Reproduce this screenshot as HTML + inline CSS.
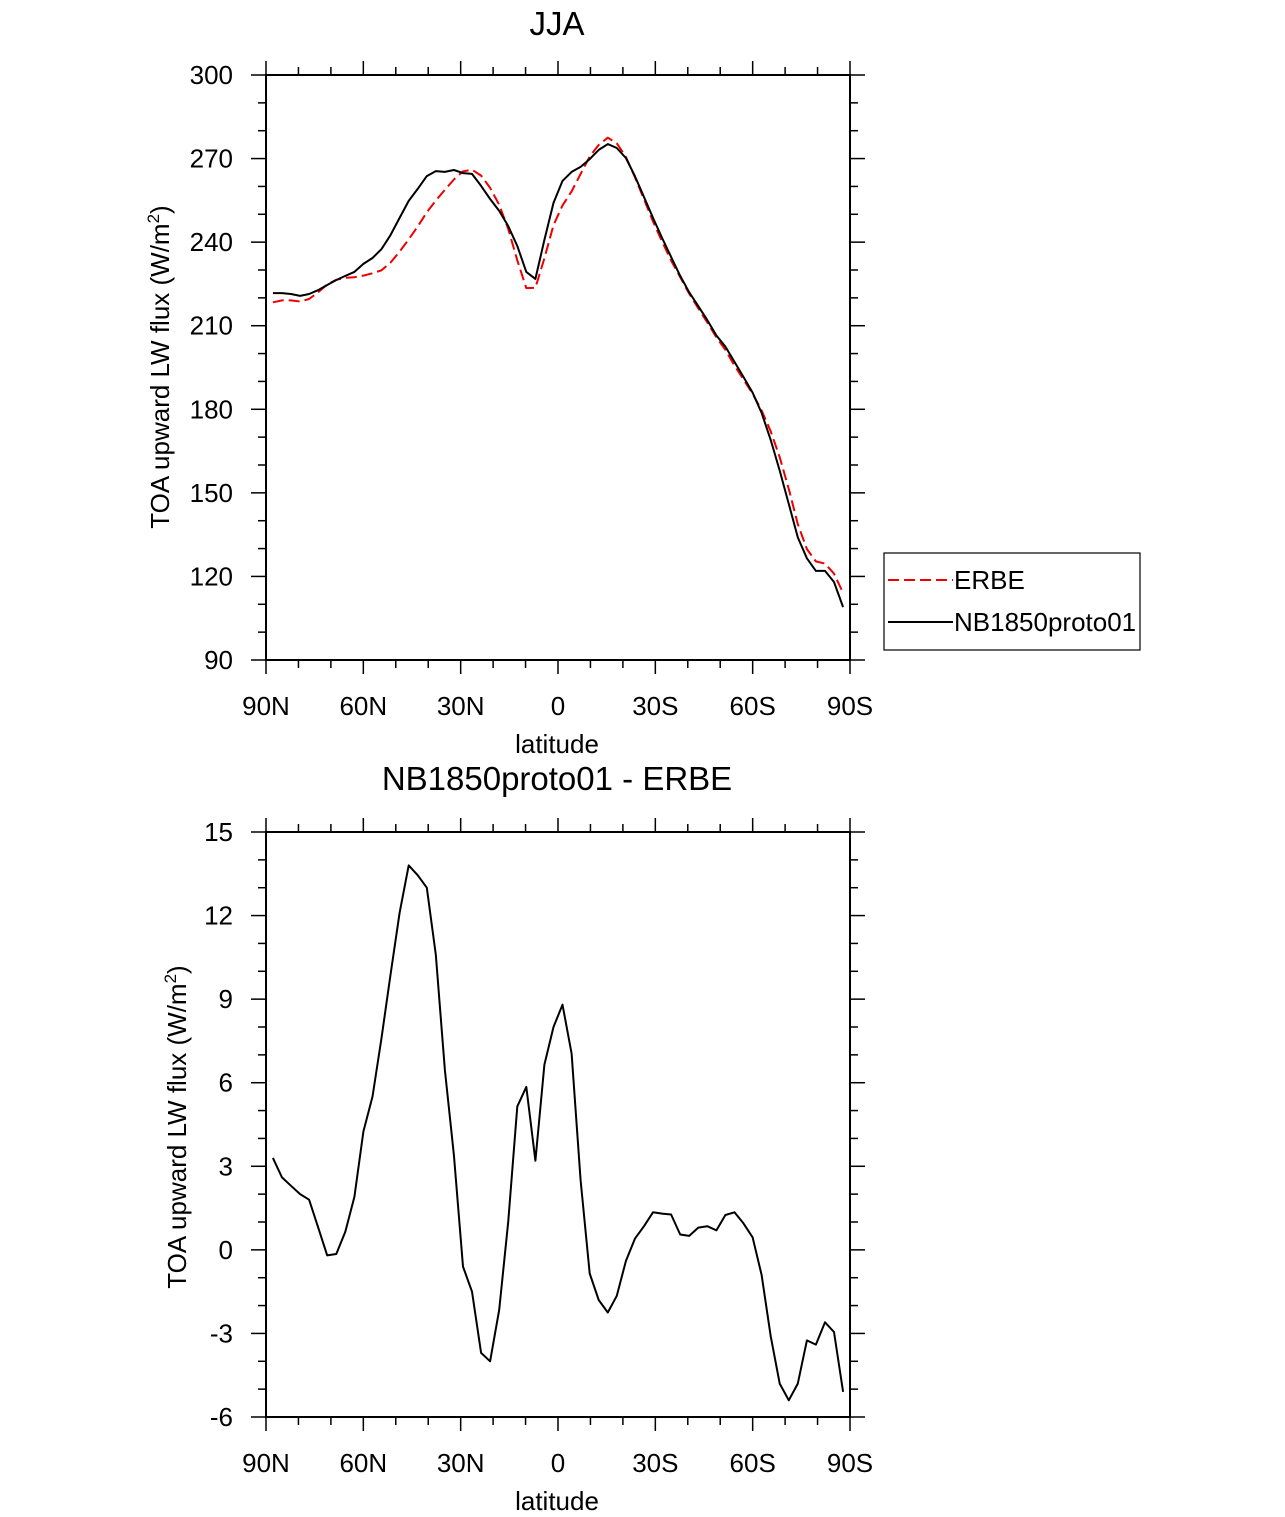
<!DOCTYPE html>
<html><head><meta charset="utf-8"><style>
body{margin:0;background:#fff;}
svg{display:block;font-family:"Liberation Sans",Arial,sans-serif;}
</style></head><body>
<svg id="chart" width="1285" height="1517" viewBox="0 0 1285 1517" xmlns="http://www.w3.org/2000/svg">
<text x="557" y="35" font-size="33" text-anchor="middle">JJA</text>
<text x="557" y="790" font-size="33" text-anchor="middle">NB1850proto01 - ERBE</text>
<g id="top"></g>
<g id="bot"></g>
<g>
<rect x="884" y="553" width="256" height="97" fill="#fff" stroke="#000" stroke-width="1.2"/>
<line x1="888" y1="580" x2="953" y2="580" stroke="#e00" stroke-width="2" stroke-dasharray="11,5"/>
<text x="954" y="589" font-size="26">ERBE</text>
<line x1="888" y1="622" x2="953" y2="622" stroke="#000" stroke-width="2"/>
<text x="954" y="631" font-size="26">NB1850proto01</text>
</g>
</svg>
<script>
const lats = [];
for (let i = 0; i < 64; i++) lats.push(87.86 - i * 175.72 / 63);
const modelFlux = [221.7,221.7,221.4,220.7,221.4,222.8,224.6,226.4,227.9,229.3,232.2,234.3,237.5,242.6,248.7,254.8,259.1,263.7,265.5,265.2,265.9,264.8,264.5,260.2,255.5,251.2,245.8,238.6,229.3,226.8,240.8,254.1,262,265.2,267,269.8,273.1,275.2,273.8,270.2,263.7,256.2,248.7,241.5,234.7,227.9,222,217,212,206.5,202.5,197,191.6,186,178.7,169,158,146,134,126.5,122,122,118,109];
const erbeFlux = [218.4,219.1,219.1,218.7,219.6,222.0,224.8,226.5,227.2,227.4,228.0,228.8,229.9,232.7,236.6,241.0,245.6,250.7,254.9,258.8,262.5,265.4,266.0,263.9,259.5,253.4,244.8,233.5,223.5,223.6,234.2,246.1,253.2,258.2,264.5,270.7,274.9,277.5,275.5,270.6,263.3,255.4,247.4,240.2,233.4,227.4,221.5,216.2,211.2,205.8,201.3,195.7,190.7,185.6,179.6,172.1,162.8,151.4,138.8,129.8,125.4,124.6,121,114.1];
const diffFlux = [3.3,2.6,2.3,2.0,1.8,0.8,-0.2,-0.15,0.65,1.9,4.25,5.5,7.6,9.9,12.1,13.8,13.45,13.0,10.6,6.45,3.4,-0.6,-1.5,-3.7,-4.0,-2.15,1.0,5.15,5.85,3.2,6.65,8.0,8.8,7.05,2.5,-0.85,-1.8,-2.25,-1.65,-0.4,0.4,0.85,1.35,1.3,1.27,0.55,0.5,0.8,0.85,0.7,1.25,1.35,0.95,0.45,-0.9,-3.1,-4.8,-5.4,-4.8,-3.25,-3.4,-2.6,-2.95,-5.1];
const xTickVals = [90,60,30,0,-30,-60,-90];
const xTickLabels = ["90N","60N","30N","0","30S","60S","90S"];
const topYTicks = [90,120,150,180,210,240,270,300];
const botYTicks = [-6,-3,0,3,6,9,12,15];

const NS = "http://www.w3.org/2000/svg";
function mk(parent, tag, attrs){const e=document.createElementNS(NS,tag);for(const k in attrs)e.setAttribute(k,attrs[k]);parent.appendChild(e);return e;}
const X0=266,X1=850;
function xs(lat){return X0+(90-lat)*(X1-X0)/180;}

function drawPanel(g, top, bottom, ymin, ymax, yticks, minorStep, prefix){
  const ys=v=>bottom-(v-ymin)*(bottom-top)/(ymax-ymin);
  const frame=mk(g,'rect',{x:X0,y:top,width:X1-X0,height:bottom-top,fill:'none',stroke:'#000','stroke-width':2});
  
  
  for(let lat=90;lat>=-90;lat-=10){
    const major=lat%30===0, L=major?14:8, x=xs(lat);
    const t1=mk(g,'line',{x1:x,x2:x,y1:bottom,y2:bottom+L,stroke:'#000','stroke-width':1.5});
    
    
    const t2=mk(g,'line',{x1:x,x2:x,y1:top,y2:top-L,stroke:'#000','stroke-width':1.5});
    
    
  }
  xTickVals.forEach((v,i)=>{
    const t=mk(g,'text',{x:xs(v),y:bottom+55,'font-size':26,'text-anchor':'middle'});t.textContent=xTickLabels[i];
    
    
  });
  for(let v=ymin;v<=ymax+1e-9;v+=minorStep){
    const major=yticks.some(t=>Math.abs(t-v)<1e-6), L=major?15:8, y=ys(v);
    const a=mk(g,'line',{x1:X0-L,x2:X0,y1:y,y2:y,stroke:'#000','stroke-width':1.5});
    
    
    const b=mk(g,'line',{x1:X1,x2:X1+L,y1:y,y2:y,stroke:'#000','stroke-width':1.5});
    
    
  }
  yticks.forEach(v=>{
    const t=mk(g,'text',{x:233,y:ys(v)+9,'font-size':26,'text-anchor':'end'});t.textContent=String(v);
    
    
  });
  const xl=mk(g,'text',{x:557,y:bottom+93,'font-size':26,'text-anchor':'middle'});xl.textContent='latitude';
  
  
  return ys;
}
function yTitle(g, cx, cy, prefix){
  const t=mk(g,'text',{x:cx,y:cy,'font-size':26,'text-anchor':'middle',transform:`rotate(-90 ${cx} ${cy})`});
  t.innerHTML='TOA upward LW flux (W/m<tspan dy="-10" font-size="17">2</tspan><tspan dy="10">)</tspan>';
  
  
}
function line(g, ys, vals, color, dash, name){
  const d=vals.map((v,i)=>(i?'L':'M')+xs(lats[i]).toFixed(1)+','+ys(v).toFixed(1)).join(' ');
  const p=mk(g,'path',{d:d,fill:'none',stroke:color,'stroke-width':2,'stroke-dasharray':dash||'none','stroke-linejoin':'round'});
  
  
}
const gt=document.getElementById('top'), gb=document.getElementById('bot');
const ysT=drawPanel(gt,75,660,90,300,topYTicks,10,'top');
yTitle(gt,169,367,'top');
line(gt,ysT,erbeFlux,'#e00','11,5','erbe-line');
line(gt,ysT,modelFlux,'#000',null,'model-line');
const ysB=drawPanel(gb,832,1417,-6,15,botYTicks,1,'bottom');
yTitle(gb,186,1127,'bottom');
line(gb,ysB,diffFlux,'#000',null,'difference-line');
</script>
</body></html>
